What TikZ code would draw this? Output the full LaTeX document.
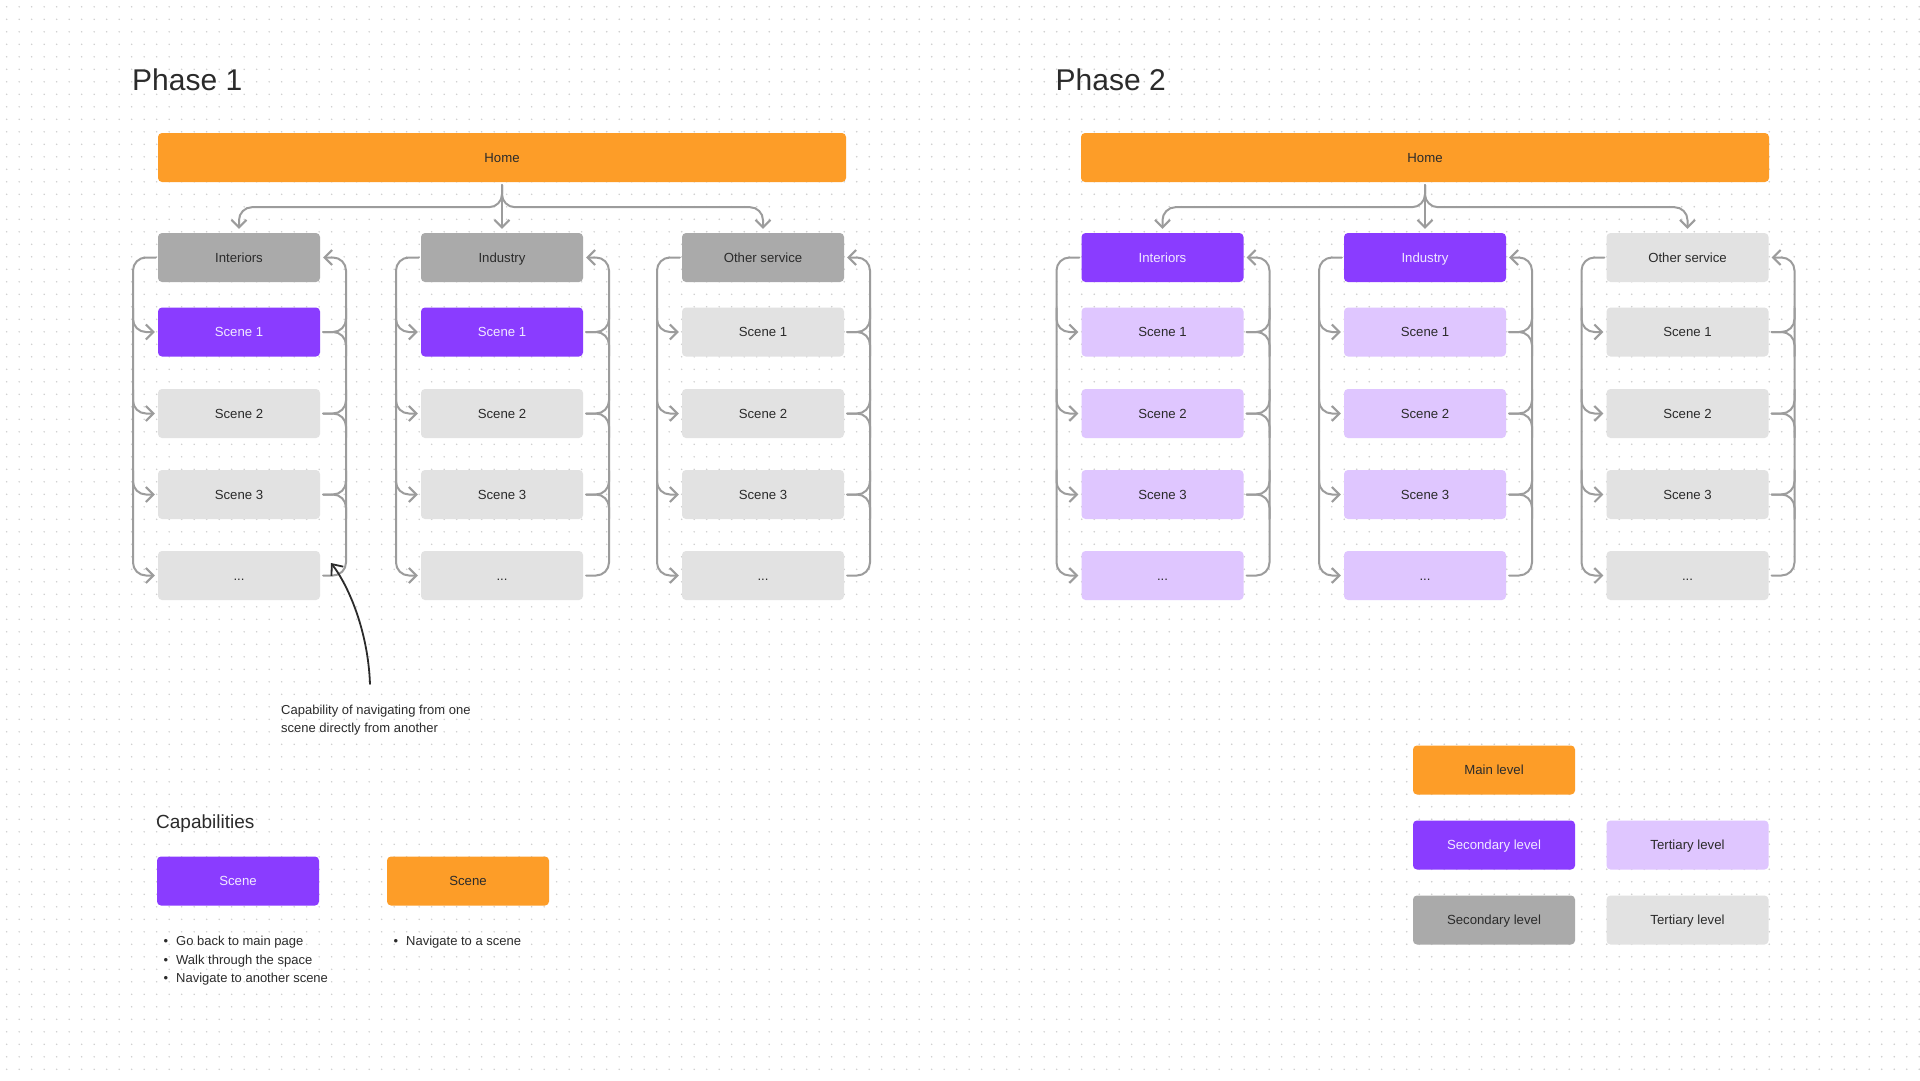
\documentclass[tikz,border=0pt]{standalone}
\usepackage{fontspec}
\setmainfont{Liberation Sans}
\usetikzlibrary{arrows.meta}
\definecolor{orangeC}{HTML}{FD9D28}
\definecolor{purpleC}{HTML}{8A3CFF}
\definecolor{lpurpleC}{HTML}{DFC6FF}
\definecolor{dgrayC}{HTML}{AAAAAA}
\definecolor{lgrayC}{HTML}{E2E2E2}
\definecolor{lineC}{HTML}{9C9C9C}
\definecolor{txtC}{HTML}{2B2B2B}
\definecolor{ptxtC}{HTML}{F1E9FF}
\definecolor{dotC}{HTML}{CDCDCD}
\tikzset{
  box/.style={rectangle, rounded corners=4pt, minimum width=162pt, minimum height=49pt, inner sep=0pt, text height=12pt, text depth=2.6pt, font=\fontsize{13.2}{16}\selectfont, text=txtC},
  orangebox/.style={box, fill=orangeC},
  purplebox/.style={box, fill=purpleC, text=ptxtC},
  lpurplebox/.style={box, fill=lpurpleC},
  dgraybox/.style={box, fill=dgrayC},
  lgraybox/.style={box, fill=lgrayC},
  conn/.style={draw=lineC, line width=2pt, rounded corners=13pt, line cap=round, -{Straight Barb[length=7.5pt,width=15pt]}},
  connp/.style={draw=lineC, line width=2pt, rounded corners=13pt, line cap=round},
  note/.style={inner sep=0pt, font=\fontsize{13}{16}\selectfont, text=txtC},
  bigtitle/.style={inner sep=0pt, font=\fontsize{30}{36}\selectfont, text=txtC},
  midtitle/.style={inner sep=0pt, font=\fontsize{19}{23}\selectfont, text=txtC},
  annarrow/.style={draw=txtC, line width=1.8pt, line cap=round, -{Straight Barb[length=9pt,width=15pt]}},
}
\newcommand\mycol[6]{%
  \node[#4] (#1h) at (#2,257.5) {#3};
  \node[#5] (#1s1) at (#2,332) {Scene 1};
  \node[#6] (#1s2) at (#2,413.5) {Scene 2};
  \node[#6] (#1s3) at (#2,494.5) {Scene 3};
  \node[#6] (#1s4) at (#2,575.5) {...};
  \draw[conn] ([xshift=-2pt]#1h.west) -- (#2-106,257.5) -- (#2-106,575.5) -- ([xshift=-3pt]#1s4.west);
  \draw[conn] ([xshift=3pt]#1s4.east) -- (#2+107,575.5) -- (#2+107,257.5) -- ([xshift=3pt]#1h.east);
  \foreach \k/\yy in {1/332,2/413.5,3/494.5}{%
    \draw[conn] (#2-106,\yy-24) -- (#2-106,\yy) -- ([xshift=-3pt]#1s\k.west);
    \draw[connp] ([xshift=3pt]#1s\k.east) -- (#2+107,\yy) -- (#2+107,\yy-24);
    \draw[connp] ([xshift=3pt]#1s\k.east) -- (#2+107,\yy) -- (#2+107,\yy+24);
  }%
}
\begin{document}
\begin{tikzpicture}[x=1pt,y=-1pt]
\fill[white] (0,0) rectangle (1920,1080);
\useasboundingbox (0,0) rectangle (1920,1080);
% dot grid
\foreach \j in {0,...,85}{%
  \draw[dotC, line width=1.7pt, line cap=round, dash pattern=on 0pt off 12.5pt] (6.7,{6.8+12.5*\j}) -- (1920,{6.8+12.5*\j});
}
% titles
\node[bigtitle, anchor=base west] (t1) at (132,90) {Phase 1};
\node[bigtitle, anchor=base west] (t2) at (1055.5,90) {Phase 2};
% home bars
\node[orangebox, minimum width=688pt] (home1) at (502,157.5) {Home};
\node[orangebox, minimum width=688pt] (home2) at (1425,157.5) {Home};
% columns
\mycol{pa}{239}{Interiors}{dgraybox}{purplebox}{lgraybox}
\mycol{pb}{502}{Industry}{dgraybox}{purplebox}{lgraybox}
\mycol{pc}{763}{Other service}{dgraybox}{lgraybox}{lgraybox}
\mycol{qa}{1162.5}{Interiors}{purplebox}{lpurplebox}{lpurplebox}
\mycol{qb}{1425}{Industry}{purplebox}{lpurplebox}{lpurplebox}
\mycol{qc}{1687.5}{Other service}{lgraybox}{lgraybox}{lgraybox}
% home connectors
\draw[conn] ([yshift=-3pt]home1.south) -- ([yshift=-25pt]home1.south) -| ([yshift=4pt]pah.north);
\draw[conn] ([yshift=-3pt]home1.south) -- ([yshift=4pt]pbh.north);
\draw[conn] ([yshift=-3pt]home1.south) -- ([yshift=-25pt]home1.south) -| ([yshift=4pt]pch.north);
\draw[conn] ([yshift=-3pt]home2.south) -- ([yshift=-25pt]home2.south) -| ([yshift=4pt]qah.north);
\draw[conn] ([yshift=-3pt]home2.south) -- ([yshift=4pt]qbh.north);
\draw[conn] ([yshift=-3pt]home2.south) -- ([yshift=-25pt]home2.south) -| ([yshift=4pt]qch.north);
% annotation
\node[note, anchor=base west] (ann1) at (281,714) {Capability of navigating from one};
\node[note, anchor=base west] (ann2) at (281,732.5) {scene directly from another};
\coordinate (annS) at (370,684);
\coordinate (annT) at (331,563);
\draw[annarrow] (annS) .. controls (368,630) and (348,585) .. (annT);
% capabilities
\node[midtitle, anchor=base west] (cap) at (156,828) {Capabilities};
\node[purplebox] (capA) at (238,881) {Scene};
\node[orangebox] (capB) at (468,881) {Scene};
\node[note, anchor=base] (bu1) at (166,945.5) {\textbullet};
\node[note, anchor=base] (bu2) at (166,964) {\textbullet};
\node[note, anchor=base] (bu3) at (166,982.3) {\textbullet};
\node[note, anchor=base west] (it1) at (176,945.5) {Go back to main page};
\node[note, anchor=base west] (it2) at (176,964) {Walk through the space};
\node[note, anchor=base west] (it3) at (176,982.3) {Navigate to another scene};
\node[note, anchor=base] (bu4) at (396,945.5) {\textbullet};
\node[note, anchor=base west] (it4) at (406,945.5) {Navigate to a scene};
% legend
\node[orangebox] (lg1) at (1494,770) {Main level};
\node[purplebox] (lg2) at (1494,845) {Secondary level};
\node[lpurplebox] (lg3) at (1687.5,845) {Tertiary level};
\node[dgraybox] (lg4) at (1494,920) {Secondary level};
\node[lgraybox] (lg5) at (1687.5,920) {Tertiary level};
\end{tikzpicture}
\end{document}
